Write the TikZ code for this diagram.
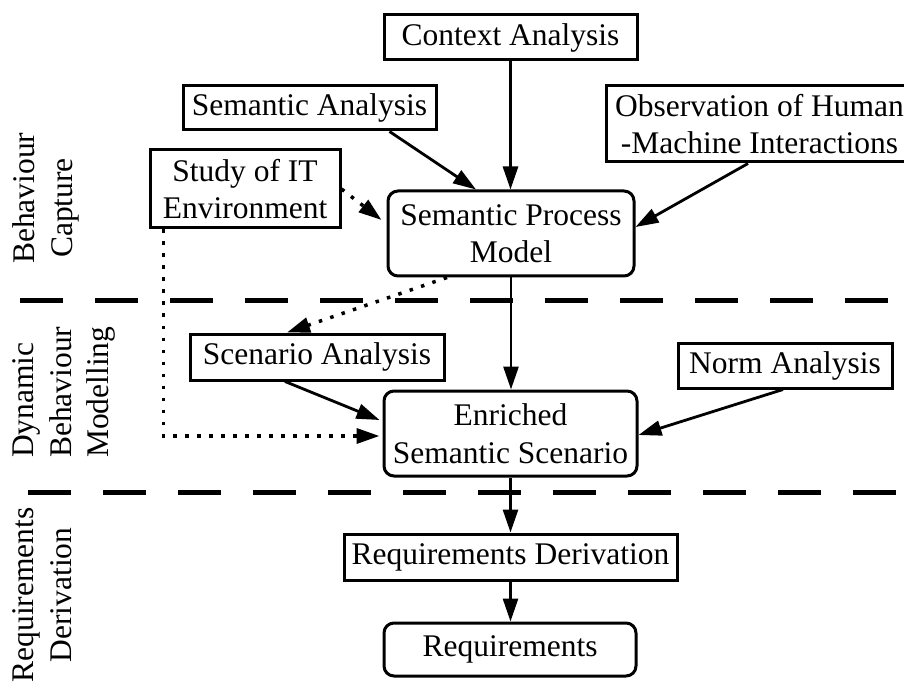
\documentclass[tikz,border=0pt]{standalone}
\usepackage{fontspec}
\setmainfont{Liberation Serif}
\usetikzlibrary{arrows.meta,calc}
\begin{document}
\begin{tikzpicture}[x=1pt,y=-1pt,
  every node/.style={font=\fontsize{31.5}{37.5}\selectfont, inner sep=0pt, align=center},
  box/.style={draw, line width=3pt, rectangle},
  rbox/.style={box, rounded corners=10pt},
  flow/.style={line width=2.8pt, -{Triangle[length=23pt,width=15pt]}},
  dots/.style={line width=3.5pt, dash pattern=on 3.5pt off 8.5pt, -{Triangle[length=23pt,width=15pt]}},
  phase/.style={rotate=90, align=left},
  sep/.style={line width=5pt, dash pattern=on 43pt off 32pt}]
\useasboundingbox (0,0) rectangle (904,684);

% phase separators
\coordinate (s1a) at (20,300.7);  \coordinate (s1b) at (910,300.7);
\coordinate (s2a) at (28,492.3);  \coordinate (s2b) at (910,492.3);
\draw[sep] (s1a) -- (s1b);
\draw[sep] (s2a) -- (s2b);

% phase labels
\node[phase, anchor=north west] (bc) at (12.5,264) {Behaviour\\\hspace*{6pt}Capture};
\node[phase, anchor=north west] (dbm) at (12.5,458) {Dynamic\\Behaviour\\Modelling};
\node[phase, align=center, anchor=north] (rdl) at (12.5,595) {Requirements\\Derivation};

% activities
\node[box, minimum width=253pt, minimum height=45pt] (ctx) at (510.5,37.5) {Context Analysis};
\node[box, minimum width=253pt, minimum height=44pt] (sem) at (309.5,108) {Semantic Analysis};
\node[box, minimum width=307pt, minimum height=76pt] (obs) at (759.5,124) {Observation of Human\\-Machine Interactions};
\node[box, minimum width=190pt, minimum height=78pt] (it) at (245,189) {Study of IT\\Environment};
\node[rbox, minimum width=246pt, minimum height=85pt] (spm) at (511,233.5) {Semantic Process\\Model};
\node[box, minimum width=254pt, minimum height=46pt] (scen) at (317,357) {Scenario Analysis};
\node[box, minimum width=214pt, minimum height=45pt] (norm) at (785,365.5) {Norm Analysis};
\node[rbox, minimum width=253pt, minimum height=85pt] (ess) at (510.5,433.5) {Enriched\\Semantic Scenario};
\node[box, minimum width=333pt, minimum height=46pt] (rd) at (510.5,557) {Requirements Derivation};
\node[rbox, minimum width=252pt, minimum height=53pt] (req) at (510,649.5) {Requirements};

% solid flows
\draw[flow] (ctx.south) -- (ctx.south |- spm.north);
\draw[flow] ([xshift=80pt]sem.south) -- ([xshift=-35pt]spm.north);
\draw[flow] ([xshift=-11.5pt]obs.south) -- ([yshift=6.5pt]spm.east);
\draw[flow] (spm.south) -- (spm.south |- ess.north);
\draw[flow] ([xshift=-32pt]scen.south) -- ([xshift=-3pt,yshift=13.5pt]ess.west);
\draw[flow] ([xshift=-2pt]norm.south) -- ([yshift=-1.5pt]ess.east);
\draw[flow] (ess.south) -- (ess.south |- rd.north);
\draw[flow] (rd.south) -- (rd.south |- req.north);

% dotted flows
\draw[dots] (it.east) -- ([xshift=-5pt,yshift=13.5pt]spm.west);
\draw[dots] ([xshift=-64pt]spm.south) -- ([xshift=-30pt]scen.north);
\draw[dots] ([xshift=15pt]it.south west) |- ([xshift=-3pt,yshift=-2.5pt]ess.west);
\end{tikzpicture}
\end{document}
